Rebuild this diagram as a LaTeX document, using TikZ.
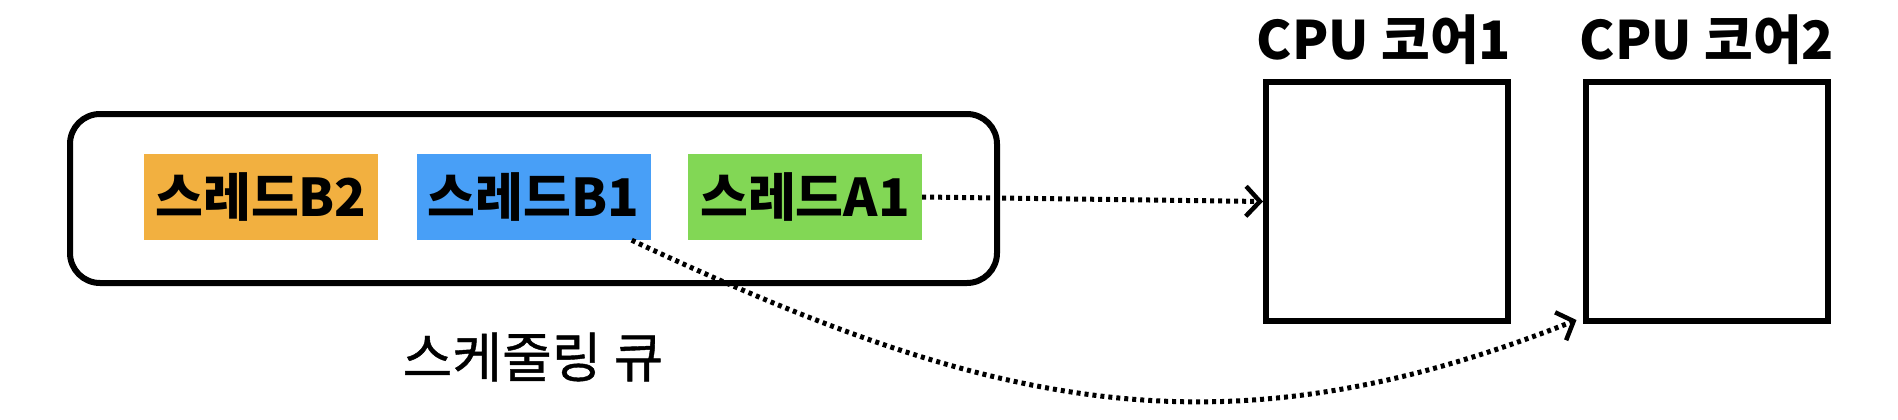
\documentclass[tikz,border=0pt]{standalone}
\usepackage{fontspec}
\setmainfont{Noto Sans CJK KR}
\usetikzlibrary{arrows.meta}
\definecolor{borange}{RGB}{242,176,64}
\definecolor{bblue}{RGB}{72,159,247}
\definecolor{bgreen}{RGB}{130,215,85}
\begin{document}
\begin{tikzpicture}[x=1pt,y=-1pt,
 thread/.style={inner sep=0pt, minimum width=234pt, minimum height=86pt, font=\fontsize{52}{56}\selectfont\bfseries},
 core/.style={draw, line width=6pt, minimum width=242pt, minimum height=239pt, inner sep=0pt},
 corelabel/.style={font=\fontsize{53}{56}\selectfont\bfseries},
 flow/.style={line width=5pt, dash pattern=on 4pt off 4pt, -{Straight Barb[length=14pt,width=30pt,line width=4.5pt]}}]
\useasboundingbox (0,0) rectangle (1898,420);
\node[draw, line width=6pt, rounded corners=30pt, minimum width=927pt, minimum height=169pt, inner sep=0pt] (queue) at (533.5,198.5) {};
\node[thread, fill=borange] (b2) at (261,197) {스레드B2};
\node[thread, fill=bblue] (b1) at (533.5,197) {스레드B1};
\node[thread, fill=bgreen] (a1) at (805,197) {스레드A1};
\node[core] (core1) at (1387,201.5) {};
\node[core] (core2) at (1706.5,201.5) {};
\node[corelabel] (l1) at (1384,40) {CPU 코어1};
\node[corelabel] (l2) at (1707,40) {CPU 코어2};
\node[font=\fontsize{54}{58}\selectfont\addfontfeatures{FakeBold=0.8}] (ql) at (533,357) {스케줄링 큐};
\draw[flow] (a1.east) -- (core1.west);
\draw[flow] ([xshift=-19pt]b1.south east) .. controls (992,409) and (1220,461) .. ([xshift=-6pt,yshift=4pt]core2.south west);
\end{tikzpicture}
\end{document}
